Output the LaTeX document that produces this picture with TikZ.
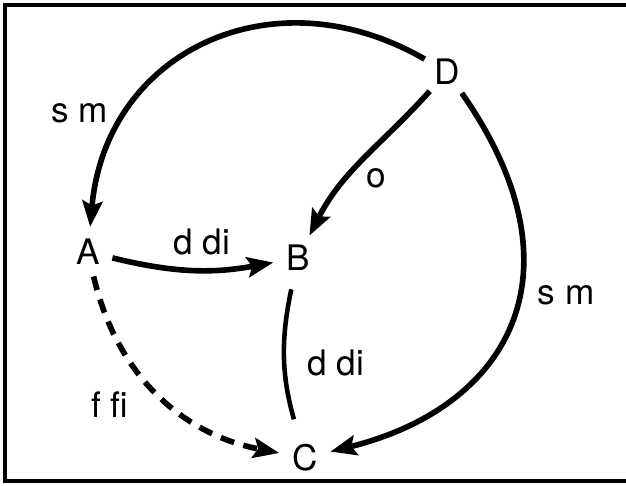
\documentclass[tikz,border=0pt]{standalone}
\usepackage{fontspec}
\setmainfont{TeX Gyre Heros}
\usetikzlibrary{arrows.meta,positioning}

\begin{document}
\begin{tikzpicture}[
    x=0.02cm, y=0.02cm,
    vert/.style={circle, inner sep=3pt, font=\fontsize{20}{24}\selectfont},
    lbl/.style={inner sep=0pt, font=\fontsize{20}{24}\selectfont},
    arr/.style={-{Stealth[length=5.2mm, width=4mm, inset=0.9mm]}, line width=3.2pt},
    link/.style={line width=2.6pt},
    frame/.style={line width=2.4pt}
  ]
    \useasboundingbox (0,0) rectangle (626,486);
    \draw[frame] (626,481) -- (5,481) -- (5,5) -- (626,5);
    \node[vert] (A) at (88,234) {A};
    \node[vert] (B) at (298,228) {B};
    \node[vert] (C) at (305,28) {C};
    \node[vert] (D) at (447,414) {D};
    \node[lbl] (sm1) at (80,373) {s m};
    \node[lbl] (o) at (376,308) {o};
    \node[lbl] (ddi1) at (202,244) {d di};
    \node[lbl] (sm2) at (566,191) {s m};
    \node[lbl] (ddi2) at (336,123) {d di};
    \node[lbl] (ffi) at (110,81) {f fi};
    \draw[arr] (D) to[out=150, in=85, looseness=1.2] (A);
    \draw[arr] (D) to[out=228, in=63] (B);
    \draw[arr] (D) to[out=-55, in=14, out looseness=1.45, in looseness=1.25] (C);
    \draw[arr] (A) to[bend right=12] (B);
    \draw[link, shorten <=4pt, shorten >=8pt] (B) to[bend right=14] (C);
    \draw[arr, dash pattern=on 8pt off 5.5pt] (A) to[out=-77, in=169] (C);
  \end{tikzpicture}
\end{document}
